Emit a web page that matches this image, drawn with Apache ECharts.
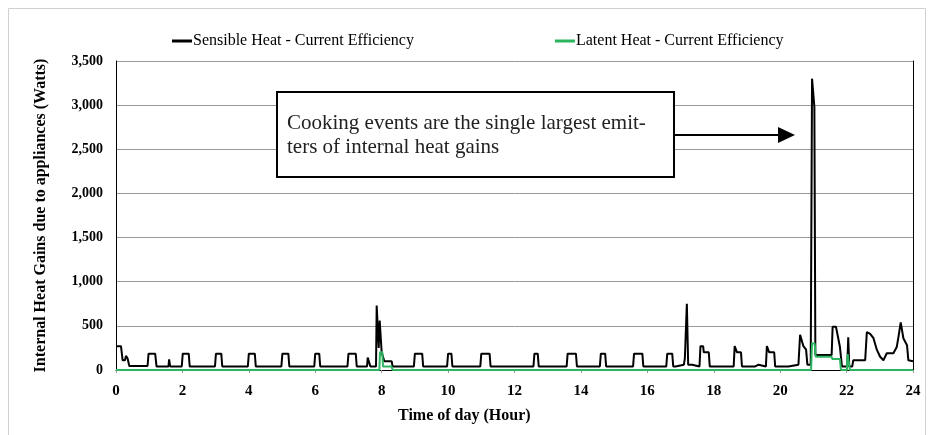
<!DOCTYPE html>
<html>
<head>
<meta charset="utf-8">
<script src="https://cdn.jsdelivr.net/npm/echarts@6/dist/echarts.min.js"></script>
<style>
  html, body { margin: 0; padding: 0; background: #fff; }
  #main { width: 928px; height: 435px; }
</style>
</head>
<body>
<div id="main"></div>
<script>
// hour of day / watts
var sensibleHours = [0, 0.15, 0.2, 0.27, 0.3, 0.35, 0.4,
  0.95, 0.98, 1.18, 1.22, 1.58, 1.6, 1.63,
  1.98, 2.01, 2.19, 2.22, 2.98, 3.01, 3.17, 3.2,
  3.97, 4.0, 4.18, 4.21, 4.98, 5.01, 5.19, 5.22,
  5.97, 6.0, 6.12, 6.15, 6.97, 7.0, 7.22, 7.25,
  7.56, 7.58, 7.63, 7.66, 7.83, 7.85, 7.89, 7.91, 7.94, 7.97, 8.0, 8.06, 8.08, 8.3, 8.33,
  8.97, 9.0, 9.22, 9.25, 9.97, 10.0, 10.1, 10.13,
  10.97, 11.0, 11.25, 11.28, 12.57, 12.6, 12.7, 12.73,
  13.57, 13.6, 13.85, 13.88, 14.57, 14.6, 14.73, 14.76,
  15.57, 15.6, 15.85, 15.88, 16.57, 16.6, 16.75, 16.78,
  16.85, 16.87, 17.1, 17.13, 17.17, 17.19, 17.21, 17.23, 17.35, 17.37,
  17.57, 17.6, 17.68, 17.7, 17.85, 17.88,
  18.6, 18.63, 18.68, 18.7, 18.82, 18.85,
  19.25, 19.28, 19.35, 19.38,
  19.57, 19.6, 19.65, 19.67, 19.82, 19.85,
  20.25, 20.28, 20.55, 20.6, 20.64, 20.7, 20.78, 20.82, 20.92,
  20.96, 21.01, 21.03, 21.06, 21.55, 21.58, 21.68, 21.7, 21.8, 21.84, 21.86,
  22.02, 22.05, 22.08, 22.1, 22.17, 22.2, 22.56, 22.61, 22.71, 22.81, 22.91, 23.01, 23.11,
  23.21, 23.41, 23.51, 23.56, 23.63, 23.71, 23.82, 23.86, 24.0];
var sensibleWatts = [270, 270, 110, 110, 160, 130, 45,
  45, 185, 185, 40, 40, 120, 40,
  40, 185, 185, 40, 40, 185, 185, 40,
  40, 185, 185, 40, 40, 185, 185, 40,
  40, 185, 185, 40, 40, 185, 185, 40,
  40, 140, 140, 40, 40, 730, 730, 250, 560, 560, 200, 200, 100, 100, 40,
  40, 185, 185, 40, 40, 185, 185, 40,
  40, 185, 185, 40, 40, 185, 185, 40,
  40, 185, 185, 40, 40, 185, 185, 40,
  40, 185, 185, 40, 40, 185, 185, 40,
  40, 60, 60, 130, 130, 750, 750, 60, 60, 40,
  40, 270, 270, 200, 200, 40,
  40, 270, 270, 200, 200, 40,
  40, 60, 60, 40,
  40, 270, 270, 200, 200, 40,
  40, 60, 60, 400, 380, 270, 230, 60, 60,
  3300, 3320, 2980, 170, 170, 490, 490, 470, 260, 260, 40,
  40, 370, 40, 40, 40, 110, 110, 430, 410, 360, 230, 150, 110,
  190, 190, 260, 370, 540, 360, 280, 110, 100];

var latentHours = [0, 7.93, 7.95, 8.02, 8.04, 8.3, 8.33,
  20.93, 20.96, 21.04, 21.07, 21.55, 21.57, 21.8, 21.83,
  22.01, 22.03, 22.08, 22.1, 24];
var latentWatts = [0, 0, 200, 200, 40, 40, 0,
  0, 300, 300, 150, 150, 125, 125, 0,
  0, 180, 180, 0, 0];

var hourTicks = [0, 2, 4, 6, 8, 10, 12, 14, 16, 18, 20, 22, 24];

function pairs(xs, ys) {
  var d = [];
  for (var i = 0; i < xs.length; i++) {
    d.push([xs[i], ys[i]]);
  }
  return d;
}

var serif = '"Liberation Serif", "DejaVu Serif", serif';
var chart = echarts.init(document.getElementById('main'));

option = {
  backgroundColor: '#fff',
  animation: false,
  legend: {
    top: 28,
    left: 167,
    itemGap: 141,
    itemWidth: 20,
    itemHeight: 3,
    icon: 'rect',
    textStyle: { fontFamily: serif, fontSize: 16, color: '#000', padding: [0, 0, 0, -4] },
    data: ['Sensible Heat - Current Efficiency', 'Latent Heat - Current Efficiency']
  },
  grid: { left: 116, right: 15, top: 61, bottom: 65 },
  xAxis: {
    type: 'value',
    min: 0,
    max: 24,
    interval: 2,
    axisLine: { lineStyle: { color: '#000', width: 1 } },
    axisTick: { show: true, length: 3, lineStyle: { color: '#999' } },
    axisLabel: {
      margin: 14,
      fontFamily: serif, fontSize: 15, fontWeight: 'bold', color: '#000',
      formatter: function (v) { return hourTicks.indexOf(v) >= 0 ? String(v) : ''; }
    },
    splitLine: { show: false }
  },
  yAxis: [{
    type: 'value',
    min: 0,
    max: 3500,
    interval: 500,
    name: 'Internal Heat Gains due to appliances (Watts)',
    nameLocation: 'middle',
    nameGap: 67,
    nameTextStyle: { fontFamily: serif, fontSize: 16, fontWeight: 'bold', color: '#000' },
    axisLine: { show: true, lineStyle: { color: '#000', width: 1 } },
    axisTick: { show: false },
    axisLabel: {
      margin: 13,
      fontFamily: serif, fontSize: 14, fontWeight: 'bold', color: '#000',
      formatter: function (v) { return v.toLocaleString('en-US'); }
    },
    splitLine: { lineStyle: { color: '#999', width: 1 } }
  }, {
    type: 'value',
    min: 0,
    max: 3500,
    interval: 500,
    position: 'right',
    axisLine: { show: true, lineStyle: { color: '#000', width: 1 } },
    axisTick: { show: false },
    axisLabel: { show: false },
    splitLine: { show: false }
  }],
  series: [
    {
      name: 'Sensible Heat - Current Efficiency',
      type: 'line',
      showSymbol: false,
      color: '#000',
      lineStyle: { width: 2, color: '#000' },
      data: pairs(sensibleHours, sensibleWatts),
      z: 3
    },
    {
      name: 'Latent Heat - Current Efficiency',
      type: 'line',
      showSymbol: false,
      color: '#2bb55f',
      lineStyle: { width: 2, color: '#2bb55f' },
      data: pairs(latentHours, latentWatts),
      z: 4
    }
  ],
  graphic: [
    {
      type: 'rect', silent: true, z: -1,
      shape: { x: 8.5, y: 8.5, width: 917, height: 440 },
      style: { fill: 'none', stroke: '#d0d0d0', lineWidth: 1 }
    },
    {
      type: 'rect', z: 10,
      shape: { x: 277, y: 92, width: 397, height: 85 },
      style: { fill: '#fff', stroke: '#000', lineWidth: 2 }
    },
    {
      type: 'text', z: 11,
      left: 287, top: 111,
      style: {
        text: 'Cooking events are the single largest emit-\nters of internal heat gains',
        fontFamily: serif, fontSize: 21, lineHeight: 24, fill: '#222'
      }
    },
    {
      type: 'line', z: 10,
      shape: { x1: 673, y1: 135, x2: 780, y2: 135 },
      style: { stroke: '#000', lineWidth: 2 }
    },
    {
      type: 'polygon', z: 10,
      shape: { points: [[778, 127], [795, 135], [778, 143]] },
      style: { fill: '#000' }
    },
    {
      type: 'text', z: 11,
      left: 398, top: 408,
      style: {
        text: 'Time of day (Hour)',
        fontFamily: serif, fontSize: 16, fontWeight: 'bold', fill: '#000'
      }
    }
  ]
};

chart.setOption(option);
</script>
</body>
</html>
